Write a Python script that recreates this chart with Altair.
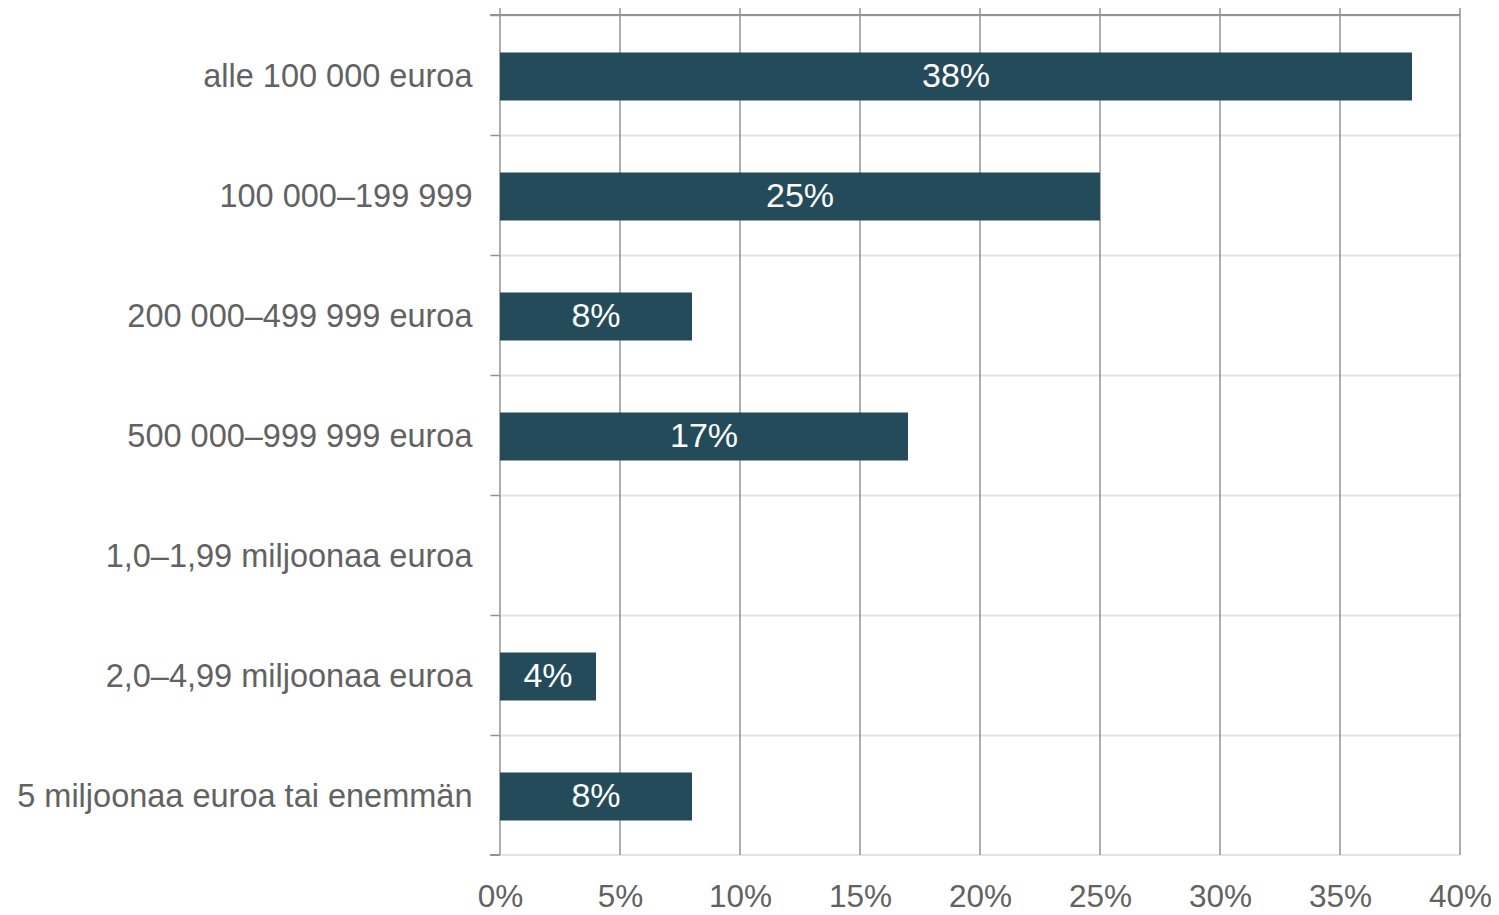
import altair as alt
import pandas as pd

categories = [
    "alle 100 000 euroa",
    "100 000–199 999",
    "200 000–499 999 euroa",
    "500 000–999 999 euroa",
    "1,0–1,99 miljoonaa euroa",
    "2,0–4,99 miljoonaa euroa",
    "5 miljoonaa euroa tai enemmän",
]
values = [38, 25, 8, 17, 0, 4, 8]
x_ticks = [0, 5, 10, 15, 20, 25, 30, 35, 40]

df = pd.DataFrame({"category": categories, "value": values})
ticks_df = pd.DataFrame({"tick": x_ticks})

FONT = "Liberation Sans"
BAR = "#234b5a"
DARK = "#939393"
LIGHT = "#e3e3e3"
TXT = "#626262"
W, H = 960, 840

xscale = alt.Scale(domain=[0, 40], nice=False)

grid = alt.Chart(ticks_df).mark_rule(color=DARK, strokeWidth=1.5).encode(
    x=alt.X("tick:Q", scale=xscale, title=None),
    y=alt.value(-9),
    y2=alt.value(H),
)

bars = alt.Chart(df).mark_bar(color=BAR, height=alt.RelativeBandSize(0.4), yOffset=1.5).encode(
    x=alt.X(
        "value:Q",
        scale=xscale,
        title=None,
        axis=alt.Axis(
            values=x_ticks,
            labelExpr="datum.value + '%'",
            grid=False,
            domain=False,
            ticks=False,
            labelFlush=False,
            labelPadding=26,
            labelFontSize=31.5,
            labelFont=FONT,
            labelColor=TXT,
        ),
    ),
    y=alt.Y(
        "category:N",
        sort=categories,
        scale=alt.Scale(paddingInner=0, paddingOuter=0),
        title=None,
        axis=alt.Axis(
            bandPosition=0,
            grid=True,
            gridColor=LIGHT,
            gridWidth=2,
            domain=False,
            ticks=True,
            tickColor=DARK,
            tickSize=10,
            tickWidth=1.5,
            labelPadding=18,
            labelOffset=2,
            labelLimit=700,
            labelFontSize=32.5,
            labelFont=FONT,
            labelColor=TXT,
        ),
    ),
)

labels = alt.Chart(df).transform_filter("datum.value > 0").transform_calculate(
    mid="datum.value / 2", lab="datum.value + '%'"
).mark_text(color="white", fontSize=34, font=FONT, baseline="middle", dy=1.5).encode(
    x=alt.X("mid:Q", scale=xscale, title=None),
    y=alt.Y("category:N", sort=categories, title=None),
    text="lab:N",
)

top_line = alt.Chart(df).mark_rule(color=DARK, strokeWidth=1.5).encode(
    x=alt.value(-10), x2=alt.value(W), y=alt.value(0)
)
bottom_line = alt.Chart(df).mark_rule(color=LIGHT, strokeWidth=2).encode(
    x=alt.value(0), x2=alt.value(W), y=alt.value(H)
)
bottom_tick = alt.Chart(df).mark_rule(color=DARK, strokeWidth=1.5).encode(
    x=alt.value(-10), x2=alt.value(0), y=alt.value(H)
)

chart = alt.layer(bottom_line, grid, top_line, bottom_tick, bars, labels).properties(
    width=W,
    height=H,
    autosize=alt.AutoSizeParams(type="none"),
    padding={"left": 492, "top": 7, "right": 31, "bottom": 58},
).configure_view(stroke=None)

chart.save("out.html", embed_options={"renderer": "svg", "actions": False})
